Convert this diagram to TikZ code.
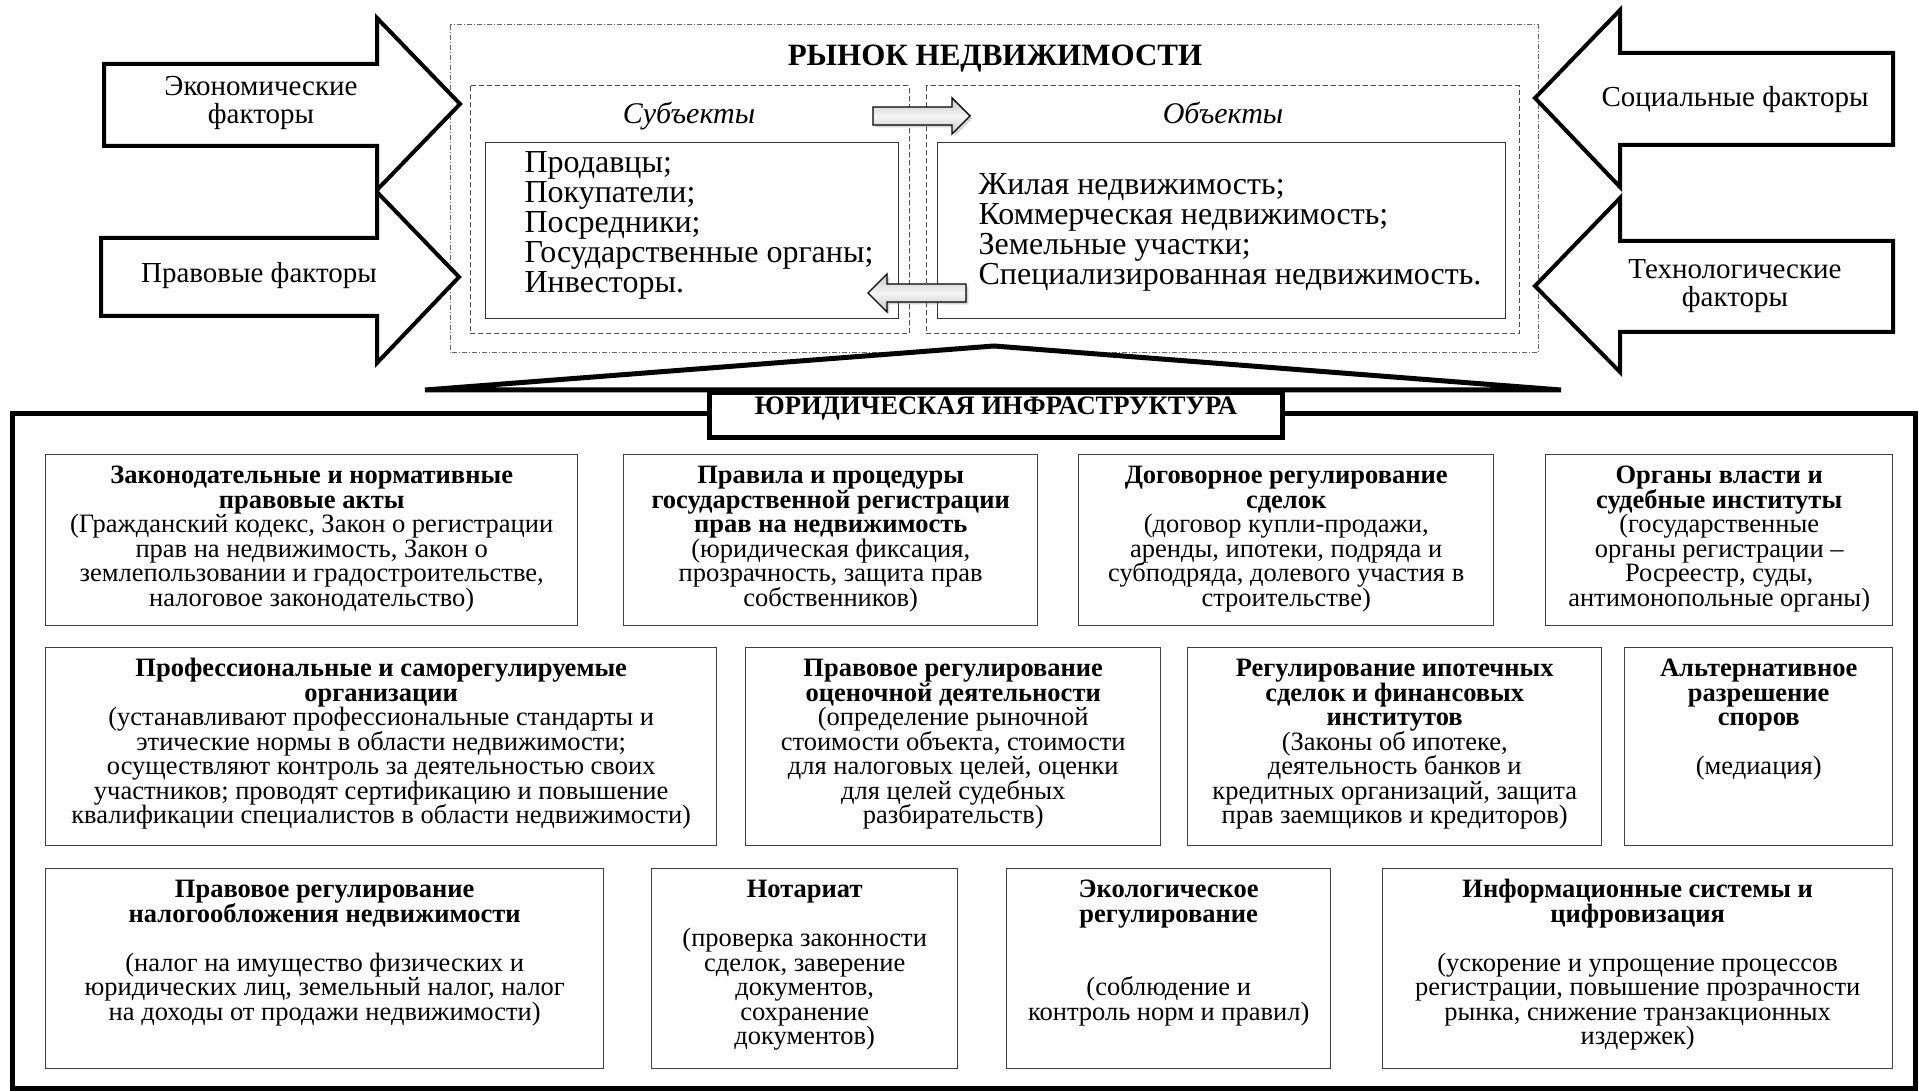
\documentclass[tikz,border=0pt]{standalone}
\usepackage{fontspec}
\setmainfont{Liberation Serif}
\usepackage{tikz}
\usetikzlibrary{positioning,shadows}

\newcommand{\boxfont}{\fontsize{13.25pt}{12.25pt}\selectfont\lineskiplimit=-\maxdimen}
\newcommand{\listfont}{\fontsize{16pt}{15pt}\selectfont\lineskiplimit=-\maxdimen}
\newcommand{\factorfont}{\fontsize{14.5pt}{14.2pt}\selectfont\lineskiplimit=-\maxdimen}
% text block of a box: width, height, lines
\newcommand{\boxbody}[3]{\parbox[t][#2][t]{#1}{\boxfont\centering
  \leftskip=-20pt plus 1fil\rightskip=-20pt plus 1fil
  \rule{0pt}{14.5pt}#3}}

\begin{document}
\begin{tikzpicture}[x=0.5pt,y=-0.5pt,
  factor/.style={draw,line width=2pt,fill=white,line join=miter},
  flow/.style={draw,line width=0.7pt,top color=gray!45,bottom color=gray!45,middle color=gray!8,
    drop shadow={opacity=0.35,shadow xshift=1.2pt,shadow yshift=-1.2pt}},
  factortext/.style={align=center,font=\factorfont},
  infobox/.style={draw=black!75,line width=0.7pt,inner sep=0pt,anchor=north west},
  listbox/.style={draw=black!80,line width=0.6pt,inner sep=0pt,anchor=north west},
  market/.style={draw=black!60,line width=0.5pt,dash pattern=on 2.5pt off 1pt on 0.5pt off 1pt},
  side/.style={draw=black!70,line width=0.5pt,dash pattern=on 2.5pt off 1.5pt},
  thickline/.style={line width=2.5pt,line join=miter}
]
\useasboundingbox (0,0) rectangle (1919,1091);

% market
\draw[market] (450,25) rectangle (1538,353);
\node[font=\bfseries\fontsize{15.5pt}{16pt}\selectfont,anchor=base] (market) at (995,66) {РЫНОК НЕДВИЖИМОСТИ};
\draw[side] (470,86) rectangle (909,334);
\draw[side] (926,86) rectangle (1519,334);
\node[font=\itshape\fontsize{15pt}{15pt}\selectfont,anchor=base] (subjtitle) at (689,124) {Субъекты};
\node[font=\itshape\fontsize{15pt}{15pt}\selectfont,anchor=base] (objtitle) at (1223,124) {Объекты};
\node[listbox] (subj) at (485,142) {\parbox[t][88pt][t]{206.5pt}{\listfont\raggedright
  \leftskip=19.5pt\rightskip=-30pt plus 1fil\rule{0pt}{15pt}Продавцы;\\Покупатели;\\Посредники;\\Государственные органы;\\Инвесторы.}};
\node[listbox] (obj) at (937,142) {\parbox[t][88pt][t]{284pt}{\listfont\raggedright
  \leftskip=20.5pt\rightskip=-30pt plus 1fil\rule{0pt}{26pt}Жилая недвижимость;\\Коммерческая недвижимость;\\Земельные участки;\\Специализированная недвижимость.}};
\draw[flow] (873,107) -- (952,107) -- (952,98) -- (970,116) -- (952,134) -- (952,125) -- (873,125) -- cycle;
\draw[flow] (966,284) -- (887,284) -- (887,274) -- (868,293) -- (887,312) -- (887,302) -- (966,302) -- cycle;

% factors
\draw[factor] (104,64) -- (377,64) -- (377,18) -- (460,104) -- (377,190) -- (377,146) -- (104,146) -- cycle;
\node[factortext] (econ) at (261,103) {Экономические\\факторы};
\draw[factor] (101,238) -- (377,238) -- (377,192) -- (459,277) -- (377,363) -- (377,316) -- (101,316) -- cycle;
\node[factortext] (legal) at (259,276) {Правовые факторы};
\draw[factor] (1893,53) -- (1620,53) -- (1620,10) -- (1535,98) -- (1620,187) -- (1620,145) -- (1893,145) -- cycle;
\node[factortext] (social) at (1735,100) {Социальные факторы};
\draw[factor] (1893,241) -- (1620,241) -- (1620,198) -- (1535,286) -- (1620,372) -- (1620,332) -- (1893,332) -- cycle;
\node[factortext] (tech) at (1735,286) {Технологические\\факторы};

% legal infrastructure
\draw[thickline] (12,414) rectangle (1915,1088);
\draw[thickline,fill=white] (425,390) -- (994,346) -- (1561,390) -- cycle;
\node[draw,line width=2.5pt,fill=white,inner sep=0pt,anchor=north west,minimum width=286.5pt,
  text height=11pt,text depth=11.5pt,font=\bfseries\fontsize{13.3pt}{14pt}\selectfont] (infra) at (707,390) {ЮРИДИЧЕСКАЯ ИНФРАСТРУКТУРА};

\node[infobox] (acts) at (45,454) {\boxbody{266pt}{85.5pt}{{\bfseries Законодательные и нормативные\\правовые акты\\}(Гражданский кодекс, Закон о регистрации\\прав на недвижимость, Закон о\\землепользовании и градостроительстве,\\налоговое законодательство)}};
\node[infobox] (registr) at (623,454) {\boxbody{207pt}{85.5pt}{{\bfseries Правила и процедуры\\государственной регистрации\\прав на недвижимость\\}(юридическая фиксация,\\прозрачность, защита прав\\собственников)}};
\node[infobox] (contract) at (1078,454) {\boxbody{207.5pt}{85.5pt}{{\bfseries Договорное регулирование\\сделок\\}(договор купли-продажи,\\аренды, ипотеки, подряда и\\субподряда, долевого участия в\\строительстве)}};
\node[infobox] (organs) at (1545,454) {\boxbody{173.5pt}{85.5pt}{{\bfseries Органы власти и\\судебные институты\\}(государственные\\органы регистрации –\\Росреестр, суды,\\антимонопольные органы)}};

\node[infobox] (sro) at (45,647) {\boxbody{335.5pt}{99pt}{{\bfseries Профессиональные и саморегулируемые\\организации\\}(устанавливают профессиональные стандарты и\\этические нормы в области недвижимости;\\осуществляют контроль за деятельностью своих\\участников; проводят сертификацию и повышение\\квалификации специалистов в области недвижимости)}};
\node[infobox] (valuation) at (745,647) {\boxbody{207.5pt}{99pt}{{\bfseries Правовое регулирование\\оценочной деятельности\\}(определение рыночной\\стоимости объекта, стоимости\\для налоговых целей, оценки\\для целей судебных\\разбирательств)}};
\node[infobox] (mortgage) at (1187,647) {\boxbody{207pt}{99pt}{{\bfseries Регулирование ипотечных\\сделок и финансовых\\институтов\\}(Законы об ипотеке,\\деятельность банков и\\кредитных организаций, защита\\прав заемщиков и кредиторов)}};
\node[infobox] (adr) at (1624,647) {\boxbody{134pt}{99pt}{{\bfseries Альтернативное\\разрешение\\споров\\[12.25pt]}(медиация)}};

\node[infobox] (tax) at (45,868) {\boxbody{279pt}{100pt}{{\bfseries Правовое регулирование\\налогообложения недвижимости\\[12.25pt]}(налог на имущество физических и\\юридических лиц, земельный налог, налог\\на доходы от продажи недвижимости)}};
\node[infobox] (notary) at (651,868) {\boxbody{153pt}{100pt}{{\bfseries Нотариат\\[12.25pt]}(проверка законности\\сделок, заверение\\документов,\\сохранение\\документов)}};
\node[infobox] (ecology) at (1006,868) {\boxbody{162pt}{100pt}{{\bfseries Экологическое\\регулирование\\[24.5pt]}(соблюдение и\\контроль норм и правил)}};
\node[infobox] (digital) at (1382,868) {\boxbody{255pt}{100pt}{{\bfseries Информационные системы и\\цифровизация\\[12.25pt]}(ускорение и упрощение процессов\\регистрации, повышение прозрачности\\рынка, снижение транзакционных\\издержек)}};
\end{tikzpicture}
\end{document}
